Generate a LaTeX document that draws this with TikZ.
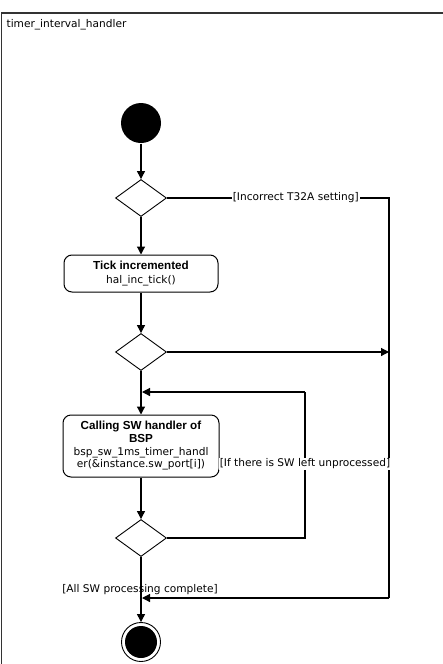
\documentclass[tikz,border=0pt]{standalone}
\usepackage{fontspec}
\setmainfont{DejaVu Sans}[BoldFont={Liberation Sans Bold},BoldFeatures={Scale=1.1}]
\usetikzlibrary{shapes.geometric,arrows.meta}
\begin{document}
\begin{tikzpicture}[x=1pt,y=-1pt,
  line width=1.2pt,
  every node/.style={font=\fontsize{10.6}{12.5}\selectfont},
  arr/.style={-{Triangle[length=8pt,width=8pt]}},
  dec/.style={diamond,draw,line width=0.9pt,minimum width=51pt,minimum height=37pt,inner sep=0pt},
  act/.style={draw,rounded corners=8pt,align=center,inner sep=1pt,line width=1pt},
  lbl/.style={fill=white,inner sep=1pt},
  frame/.style={draw=black!80,line width=1.5pt}
]
\useasboundingbox (0,0) rectangle (443,664);
\draw[frame] (1.5,670) -- (1.5,13) -- (450,13);
\node[anchor=west,inner sep=0pt] (title) at (6,25) {timer\_interval\_handler};

\node[circle,fill=black,minimum size=40pt,inner sep=0pt] (start) at (141,123) {};
\node[dec] (d1) at (141,198) {};
\node[act,minimum width=154pt,minimum height=37pt,
  font=\fontsize{10.6}{13.5}\selectfont] (t1) at (141,273.5)
  {\textbf{Tick incremented}\\hal\_inc\_tick()};
\node[dec] (d2) at (141,352) {};
\node[act,minimum width=156pt,minimum height=62pt] (b2) at (141,446)
  {\textbf{Calling SW handler of}\\[0.5pt]\textbf{BSP}\\bsp\_sw\_1ms\_timer\_handl\\er(\&instance.sw\_port[i])};
\node[dec] (d3) at (141,538) {};
\node[circle,draw,line width=0.9pt,minimum size=39pt,inner sep=0pt] (endo) at (141,642) {};
\node[circle,fill=black,minimum size=32pt,inner sep=0pt] (endi) at (endo) {};

\coordinate (c1) at (389,198);
\coordinate (c2) at (389,598);
\coordinate (j) at (142,598);
\coordinate (c4) at (389,352);
\coordinate (c3) at (305,538);
\coordinate (loop) at (305,392);
\coordinate (m) at (142,392);

\draw[arr] (start) -- (d1);
\draw[arr] (d1) -- (t1);
\draw[arr] (t1) -- (d2);
\draw[arr] (d2) -- (b2);
\draw[arr] (b2) -- (d3);
\draw[arr] (d3) -- (endo);
\draw (d1.east) -- node[lbl,pos=0.58] (l1) {[Incorrect T32A setting]} (c1) -- (c2);
\draw[arr] (c2) -- (j);
\draw[arr] (d2.east) -- (c4);
\draw (d3.east) -- (c3) -- node[lbl,pos=0.507] (l2) {[If there is SW left unprocessed]} (loop);
\draw[arr] (loop) -- (m);
\node (l3) at (140,590) {[All SW processing complete]};
\end{tikzpicture}
\end{document}
